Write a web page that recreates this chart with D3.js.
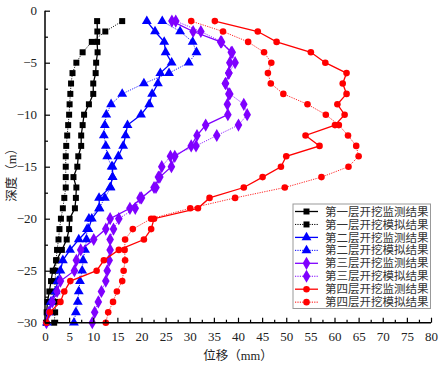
<!DOCTYPE html>
<html><head><meta charset="utf-8">
<script src="https://cdn.jsdelivr.net/npm/d3@7"></script>
<style>body{margin:0;background:#fff}svg{display:block}</style>
</head><body><svg id="c" width="442" height="367"></svg>
<script>
const depths = d3.range(1, 31).map(d => -d);
const seriesNames = ["第一层开挖监测结果","第一层开挖模拟结果","第二层开挖监测结果","第二层开挖模拟结果","第三层开挖监测结果","第三层开挖模拟结果","第四层开挖监测结果","第四层开挖模拟结果"];
const s1Mon = [10.8,10.85,10.8,10.9,10.6,10.5,10.0,10.0,9.1,8.1,7.8,7.5,7.5,6.9,6.7,5.9,6.5,6.4,6.2,5.1,5.0,4.5,3.5,2.4,1.6,1.25,0.9,0.5,0.35,0.2];
const s1Sim = [16.0,12.5,9.7,7.8,6.5,5.7,5.4,5.25,5.1,5.0,4.8,4.6,4.4,4.3,4.3,4.3,4.3,4.0,3.7,3.3,3.0,2.8,2.5,2.3,2.2,2.1,2.0,2.2,2.1,1.9];
const s2Mon = [21.1,22.8,24.7,25.0,26.25,23.9,23.4,22.2,21.6,19.9,17.1,16.7,16.2,15.2,14.0,14.0,13.5,11.2,11.3,9.7,9.0,7.0,5.2,3.7,3.2,2.6,2.2,1.2,0.8,0.4];
const s2Sim = [24.3,28.0,30.6,31.4,29.8,25.7,20.5,16.0,13.7,12.7,12.4,12.2,12.6,12.9,13.8,14.0,13.6,12.4,11.2,9.1,8.7,8.6,8.3,7.9,7.7,7.25,7.0,6.8,6.4,6.0];
const s3Mon = [26.3,30.7,36.4,38.6,38.3,38.1,37.4,38.1,37.8,37.9,33.3,31.5,30.3,26.9,26.2,23.8,22.6,20.0,17.6,13.5,12.6,10.1,7.4,6.5,6.1,3.2,2.5,1.5,0.8,0.3];
const s3Sim = [27.1,32.3,36.6,38.8,39.4,38.1,37.4,38.3,41.2,41.9,40.1,35.6,31.3,26.0,24.2,23.5,23.0,19.7,18.7,15.3,14.2,13.5,13.5,13.3,12.9,12.6,11.7,11.05,10.3,9.8];
const s4Mon = [35.2,44.1,48.0,55.1,58.1,62.5,61.7,62.5,60.6,62.1,60.1,54.0,56.9,50.0,48.9,45.1,41.2,34.1,31.7,22.6,22.0,20.5,15.3,12.2,10.7,5.25,4.0,3.2,1.0,0.3];
const s4Sim = [30.3,36.9,42.1,45.4,46.9,46.2,46.8,49.4,54.4,58.2,60.9,62.8,64.5,65.0,62.9,57.3,49.7,39.4,30.1,22.0,18.2,16.6,16.5,16.6,16.3,16.0,14.9,14.1,13.1,12.6];
const xTicks = d3.range(0, 81, 5);
const yTicks = [0, -5, -10, -15, -20, -25, -30];

const allValues = [s1Mon,s1Sim,s2Mon,s2Sim,s3Mon,s3Sim,s4Mon,s4Sim];
const colors = ["#000000","#000000","#0000ff","#0000ff","#7f00ff","#7f00ff","#ff0000","#ff0000"];
const shapes = [d3.symbolSquare,d3.symbolSquare,d3.symbolTriangle,d3.symbolTriangle,d3.symbolDiamond,d3.symbolDiamond,d3.symbolCircle,d3.symbolCircle];
const sizes = [36,36,42,42,50,50,34,34];
const dashed = [false,true,false,true,false,true,false,true];

const svg = d3.select("#c");
const ml = 45, mr = 431, mt = 10.7, mb = 322.7;
const x = d3.scaleLinear().domain([0, 80]).range([ml, mr]);
const y = d3.scaleLinear().domain([0, -30]).range([mt, mb]);
const font = "'Liberation Serif','Noto Sans CJK SC',serif";

// data
const line = d3.line().x(d => x(d[0])).y(d => y(d[1]));
allValues.forEach((vals, i) => {
  const pts = vals.map((v, j) => [v, depths[j]]);
  const g = svg.append("g");
  g.append("path").attr("d", line(pts)).attr("fill", "none")
    .attr("stroke", colors[i]).attr("stroke-width", dashed[i] ? 1 : 1.3)
    .attr("stroke-dasharray", dashed[i] ? "1.2,1.2" : null)
    .attr("stroke-opacity", dashed[i] ? 0.85 : 1);
  g.selectAll("path.m").data(pts).join("path").attr("class", "m")
    .attr("transform", d => `translate(${x(d[0])},${y(d[1])})`)
    .attr("d", d3.symbol().type(shapes[i]).size(sizes[i]))
    .attr("fill", colors[i]);
});

// axes
const xAxis = d3.axisBottom(x).tickValues(xTicks).tickSize(-5).tickPadding(9).tickFormat(d3.format("d"));
const gx = svg.append("g").attr("transform", `translate(0,${mb})`).call(xAxis);
gx.selectAll(".tick").filter(d=>d===0).select("line").remove();
gx.select(".domain").attr("stroke-width", 1.5).attr("d", `M${ml},0H${mr}`);
gx.selectAll(".tick line").attr("stroke-width", 1.2);
gx.selectAll("text").attr("font-family", font).attr("font-size", 13).attr("fill", "#222");
const gxm = svg.append("g").attr("transform", `translate(0,${mb})`).call(
  d3.axisBottom(x).tickValues(d3.range(2.5, 80, 5)).tickSize(-3).tickFormat(""));
gxm.select(".domain").remove();
gxm.selectAll(".tick line").attr("stroke-width", 1.2);

const yAxis = d3.axisLeft(y).tickValues(yTicks).tickSize(-5).tickPadding(8).tickFormat(d => d === 0 ? "0" : "\u2212" + Math.abs(d));
const gy = svg.append("g").attr("transform", `translate(${ml},0)`).call(yAxis);
gy.select(".domain").attr("stroke-width", 1.5).attr("d", `M0,${mt}V${mb}`);
gy.selectAll(".tick line").attr("stroke-width", 1.2);
gy.selectAll("text").attr("font-family", font).attr("font-size", 13).attr("fill", "#222");
const gym = svg.append("g").attr("transform", `translate(${ml},0)`).call(
  d3.axisLeft(y).tickValues(d3.range(-2.5, -30, -5)).tickSize(-3).tickFormat(""));
gym.select(".domain").remove();
gym.selectAll(".tick line").attr("stroke-width", 1.2);

// axis titles
svg.append("text").attr("x", 238).attr("y", 360).attr("text-anchor", "middle")
  .attr("font-family", font).attr("font-size", 12.5).attr("fill", "#222").text("位移（mm）");
svg.append("text").attr("transform", "translate(16,172) rotate(-90)").attr("text-anchor", "middle")
  .attr("font-family", font).attr("font-size", 12.5).attr("fill", "#222").text("深度（m）");

// legend
const lg = svg.append("g");
lg.append("rect").attr("x", 293).attr("y", 204).attr("width", 137.5).attr("height", 104.5)
  .attr("fill", "#fff").attr("stroke", "#999").attr("stroke-width", 1);
seriesNames.forEach((name, i) => {
  const cy = 211.5 + i * 12.95;
  lg.append("line").attr("x1", 295).attr("x2", 318).attr("y1", cy).attr("y2", cy)
    .attr("stroke", colors[i]).attr("stroke-width", dashed[i] ? 1 : 1.3)
    .attr("stroke-dasharray", dashed[i] ? "1.2,1.2" : null);
  lg.append("path").attr("transform", `translate(306.5,${cy})`)
    .attr("d", d3.symbol().type(shapes[i]).size(sizes[i])).attr("fill", colors[i]);
  lg.append("text").attr("x", 325).attr("y", cy).attr("dy", "0.36em")
    .attr("font-family", font).attr("font-size", 11.5).attr("fill", "#333").text(name);
});
</script></body></html>
